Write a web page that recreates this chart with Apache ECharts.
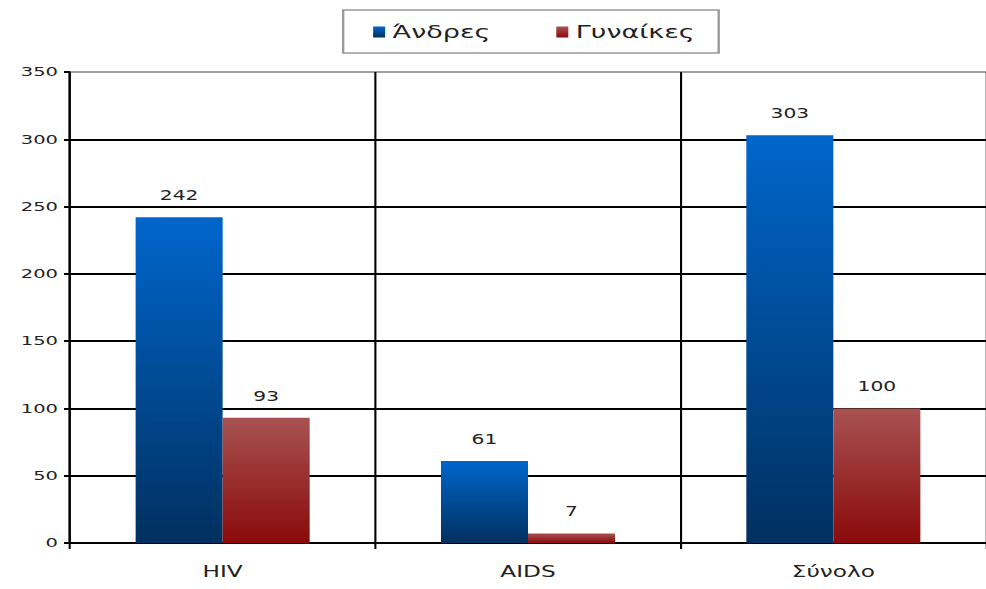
<!DOCTYPE html>
<html>
<head>
<meta charset="utf-8">
<script src="https://cdn.jsdelivr.net/npm/echarts@6/dist/echarts.min.js"></script>
<style>
  html, body { margin: 0; padding: 0; background: #fff; overflow: hidden; }
  /* The chart is laid out narrow and stretched horizontally to fill the page,
     giving the wide, stretched lettering of the original figure. */
  #chart {
    width: 658px;
    height: 589px;
    transform: scaleX(1.4985);
    transform-origin: 0 0;
  }
</style>
</head>
<body>
<div id="chart"></div>
<script>
// Categories and values
const categories = ['HIV', 'AIDS', 'Σύνολο'];
const menValues = [242, 61, 303];
const womenValues = [93, 7, 100];
const seriesNames = ['Άνδρες', 'Γυναίκες'];
const yTicks = [0, 50, 100, 150, 200, 250, 300, 350];

const font = 'DejaVu Sans';
const textColor = '#222';

function vGrad(top, bottom) {
  return new echarts.graphic.LinearGradient(0, 0, 0, 1, [
    { offset: 0, color: top },
    { offset: 1, color: bottom }
  ]);
}

const chart = echarts.init(document.getElementById('chart'), null, { renderer: 'svg' });

const labelStyle = {
  show: true,
  position: 'top',
  distance: 15,
  color: textColor,
  fontFamily: font,
  fontSize: 13.5
};

chart.setOption({
  animation: false,
  backgroundColor: '#fff',
  legend: {
    data: seriesNames.map(n => ({ name: n, icon: 'rect' })),
    left: 229,
    top: 10,
    padding: [13, 16, 12, 20],
    itemGap: 44,
    itemWidth: 8,
    itemHeight: 11,
    borderColor: '#9a9a9a',
    borderWidth: 1.6,
    textStyle: { fontFamily: font, fontSize: 18, color: textColor }
  },
  grid: {
    left: 46.7,
    right: -1.4,
    top: 72,
    bottom: 46,
    containLabel: false
  },
  xAxis: {
    type: 'category',
    data: categories,
    axisLine: { show: true, lineStyle: { color: '#000', width: 2 } },
    axisTick: { show: true, length: 6, lineStyle: { color: '#000', width: 1.4 } },
    splitLine: { show: true, interval: 0, lineStyle: { color: '#000', width: 1.4 } },
    axisLabel: { fontFamily: font, fontSize: 15.5, color: textColor, margin: 21 }
  },
  yAxis: {
    type: 'value',
    min: yTicks[0],
    max: yTicks[yTicks.length - 1],
    interval: 50,
    axisLine: { show: true, lineStyle: { color: '#000', width: 1.4 } },
    axisTick: { show: true, length: 4, lineStyle: { color: '#000', width: 2 } },
    splitLine: {
      show: true,
      lineStyle: {
        color: ['#000', '#000', '#000', '#000', '#000', '#000', '#000', '#a0a0a0'],
        width: 2
      }
    },
    axisLabel: { fontFamily: font, fontSize: 13, color: textColor, margin: 8 }
  },
  series: [
    {
      name: seriesNames[0],
      type: 'bar',
      data: menValues,
      barGap: '0%',
      barCategoryGap: '43%',
      itemStyle: { color: vGrad('#0066cc', '#00305f') },
      label: labelStyle
    },
    {
      name: seriesNames[1],
      type: 'bar',
      data: womenValues,
      itemStyle: { color: vGrad('#a85252', '#8a0a0a') },
      label: labelStyle
    }
  ]
});
</script>
</body>
</html>
